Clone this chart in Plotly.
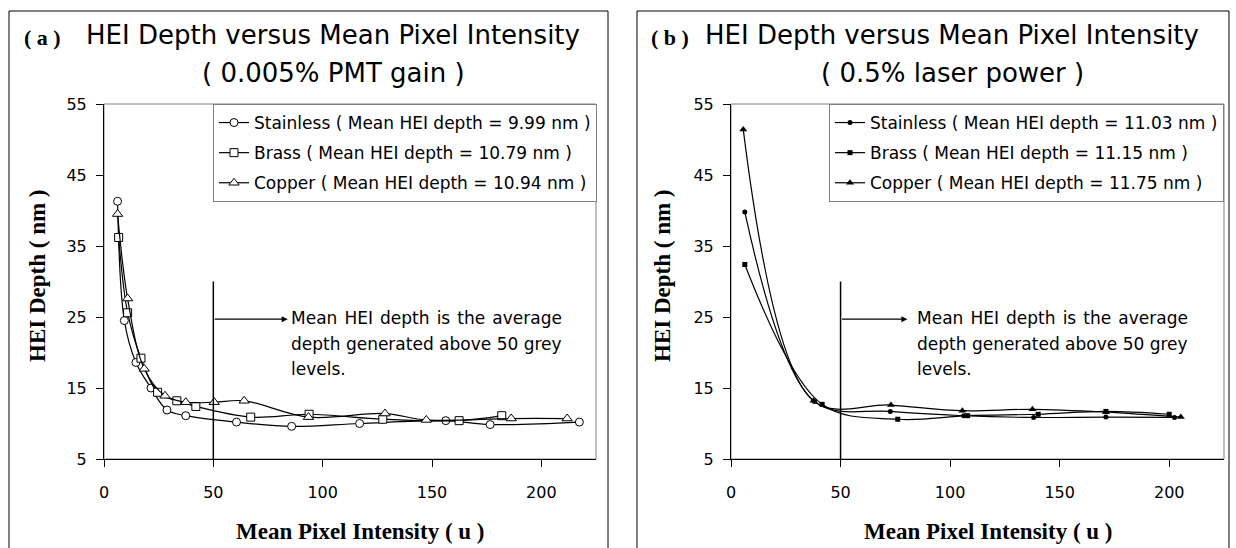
import plotly.graph_objects as go

W, H = 1236, 548

# ---------------- data ----------------
# Panel (a): 0.005% PMT gain
a_stainless_x = [6.2, 9.3, 14.6, 21.5, 28.8, 37.4, 60.6, 85.8, 116.9, 156.3, 176.6, 217.4]
a_stainless_y = [41.3, 24.5, 18.6, 15.0, 11.9, 11.1, 10.2, 9.6, 10.0, 10.4, 9.85, 10.2]
a_brass_x = [6.7, 10.8, 16.9, 24.5, 33.3, 42.0, 67.1, 93.8, 127.5, 162.4, 181.9]
a_brass_y = [36.2, 25.6, 19.2, 14.4, 13.2, 12.4, 10.9, 11.3, 10.6, 10.4, 11.1]
a_copper_x = [6.2, 10.8, 18.4, 27.9, 37.4, 50.4, 64.1, 93.5, 128.5, 147.4, 186.2, 211.8]
a_copper_y = [39.5, 27.6, 17.7, 13.9, 13.0, 13.0, 13.2, 10.9, 11.4, 10.5, 10.7, 10.7]

# Panel (b): 0.5% laser power
b_stainless_x = [6.3, 38.1, 72.7, 106.2, 138.1, 171.1, 202.4]
b_stainless_y = [39.8, 13.1, 11.7, 11.1, 10.85, 10.9, 10.85]
b_brass_x = [6.3, 41.6, 76.1, 108.0, 140.2, 171.1, 200.0]
b_brass_y = [32.4, 12.7, 10.6, 11.1, 11.3, 11.7, 11.3]
b_copper_x = [5.6, 37.6, 73.0, 105.6, 137.6, 171.1, 205.3]
b_copper_y = [51.4, 13.2, 12.6, 11.8, 12.0, 11.6, 10.9]

a_names = ["Stainless ( Mean HEI depth = 9.99 nm )",
           "Brass ( Mean HEI depth = 10.79 nm )",
           "Copper ( Mean HEI depth = 10.94 nm )"]
b_names = ["Stainless ( Mean HEI depth = 11.03 nm )",
           "Brass ( Mean HEI depth = 11.15 nm )",
           "Copper ( Mean HEI depth = 11.75 nm )"]

x_ticks = [0, 50, 100, 150, 200]
y_ticks = [5, 15, 25, 35, 45, 55]

note_lines = ["Mean HEI depth is the average",
              "depth generated above 50 grey",
              "levels."]

# ---------------- helpers ----------------
def px(x):
    return x / W

def py(y):
    return 1 - y / H

SANS = "DejaVu Sans, Arial, sans-serif"
SERIF = "Liberation Serif, Times New Roman, serif"

fig = go.Figure()

open_syms = ["circle", "square", "triangle-up"]
open_sizes = [8, 8, 9]
fill_sizes = [5, 5, 7]

a_series = [(a_stainless_x, a_stainless_y), (a_brass_x, a_brass_y), (a_copper_x, a_copper_y)]
b_series = [(b_stainless_x, b_stainless_y), (b_brass_x, b_brass_y), (b_copper_x, b_copper_y)]

for i, (xs, ys) in enumerate(a_series):
    fig.add_trace(go.Scatter(
        x=xs, y=ys, mode="lines+markers", name=a_names[i],
        line=dict(color="black", width=1.2, shape="spline", smoothing=1.0),
        marker=dict(symbol=open_syms[i], size=open_sizes[i], color="white",
                    line=dict(color="black", width=1)),
        xaxis="x", yaxis="y", legend="legend", legendgroup="a%d" % i))

for i, (xs, ys) in enumerate(b_series):
    fig.add_trace(go.Scatter(
        x=xs, y=ys, mode="lines+markers", name=b_names[i],
        line=dict(color="black", width=1.2, shape="spline", smoothing=1.0),
        marker=dict(symbol=open_syms[i], size=fill_sizes[i], color="black"),
        xaxis="x2", yaxis="y2", legend="legend2", legendgroup="b%d" % i))

axis_common = dict(
    range=[0, 225], tickvals=x_ticks, ticks="outside", ticklen=7, tickcolor="black",
    showline=True, linecolor="black", linewidth=1, showgrid=False, zeroline=False,
    automargin=False,
    tickfont=dict(family=SANS, size=16, color="black"), ticklabelstandoff=12, fixedrange=True)
yaxis_common = dict(
    range=[5, 55], tickvals=y_ticks, ticks="outside", ticklen=7, tickcolor="black",
    showline=True, linecolor="black", linewidth=1, showgrid=False, zeroline=False,
    automargin=False,
    tickfont=dict(family=SANS, size=16, color="black"), ticklabelstandoff=6, fixedrange=True)

ydom = [py(459), py(104)]
fig.update_layout(
    width=W, height=H, margin=dict(l=0, r=0, t=0, b=0, pad=0, autoexpand=False),
    paper_bgcolor="white", plot_bgcolor="white",
    xaxis=dict(domain=[px(104), px(596)], anchor="y", **axis_common),
    yaxis=dict(domain=ydom, anchor="x", **yaxis_common),
    xaxis2=dict(domain=[px(731), px(1224)], anchor="y2", **axis_common),
    yaxis2=dict(domain=ydom, anchor="x2", **yaxis_common),
    legend=dict(x=px(597), xanchor="right", y=py(104), yanchor="top",
                bordercolor="#808080", borderwidth=1, bgcolor="white",
                font=dict(family=SANS, size=17, color="black"), tracegroupgap=5),
    legend2=dict(x=px(1224), xanchor="right", y=py(104), yanchor="top",
                 bordercolor="#808080", borderwidth=1, bgcolor="white",
                 font=dict(family=SANS, size=17, color="black"), tracegroupgap=5),
    showlegend=True,
)

shapes = []
# panel frames
for x0, x1 in [(9, 608), (637, 1229)]:
    shapes.append(dict(type="rect", xref="paper", yref="paper",
                       x0=px(x0), x1=px(x1), y0=py(11), y1=py(560),
                       line=dict(color="black", width=1), fillcolor="rgba(0,0,0,0)", layer="below"))
# plot area frames (gray)
for xr, yr in [("x domain", "y domain"), ("x2 domain", "y2 domain")]:
    shapes.append(dict(type="rect", xref=xr, yref=yr, x0=0, x1=1, y0=0, y1=1,
                       line=dict(color="#808080", width=1), layer="below"))
# vertical 50-grey-level markers
for xr, yr in [("x", "y"), ("x2", "y2")]:
    shapes.append(dict(type="line", xref=xr, yref=yr, x0=50, x1=50, y0=5, y1=30,
                       line=dict(color="black", width=1.5)))
fig.update_layout(shapes=shapes)

ann = []
# arrows
ann.append(dict(xref="x", yref="y", axref="x", ayref="y", x=84, y=24.7, ax=50, ay=24.7,
                text="", showarrow=True, arrowhead=2, arrowsize=1, arrowwidth=1.2, arrowcolor="black"))
ann.append(dict(xref="x2", yref="y2", axref="x2", ayref="y2", x=80.5, y=24.7, ax=50, ay=24.7,
                text="", showarrow=True, arrowhead=2, arrowsize=1, arrowwidth=1.2, arrowcolor="black"))
# note text (first line slightly widened to mimic the justified block)
note_display = [note_lines[0].replace(" ", " \u200a"), note_lines[1], note_lines[2]]
for left in (289, 915):
    for line, yc in zip(note_display, [318, 344, 369]):
        ann.append(dict(xref="paper", yref="paper", x=px(left), y=py(yc), xanchor="left",
                        yanchor="middle", text=line, showarrow=False,
                        font=dict(family=SANS, size=17, color="black")))

# titles
panel_info = [("( a )", 22, 333, "( 0.005% PMT gain )", 37, 360),
              ("( b )", 649, 952, "( 0.5% laser power )", 662, 988)]
for tag, tagx, cx, sub, ytx, xtx in panel_info:
    ann.append(dict(xref="paper", yref="paper", x=px(tagx), y=py(37), xanchor="left", yanchor="middle",
                    text="<b>%s</b>" % tag, showarrow=False,
                    font=dict(family=SERIF, size=22, color="black")))
    ann.append(dict(xref="paper", yref="paper", x=px(cx), y=py(35), xanchor="center", yanchor="middle",
                    text="HEI Depth versus Mean Pixel Intensity", showarrow=False,
                    font=dict(family=SANS, size=26, color="black")))
    ann.append(dict(xref="paper", yref="paper", x=px(cx), y=py(73), xanchor="center", yanchor="middle",
                    text=sub, showarrow=False,
                    font=dict(family=SANS, size=26, color="black")))
    ann.append(dict(xref="paper", yref="paper", x=px(ytx), y=py(276), xanchor="center", yanchor="middle",
                    text="<b>HEI Depth ( nm )</b>", textangle=-90, showarrow=False,
                    font=dict(family=SERIF, size=23, color="black")))
    ann.append(dict(xref="paper", yref="paper", x=px(xtx), y=py(531), xanchor="center", yanchor="middle",
                    text="<b>Mean Pixel Intensity ( u )</b>", showarrow=False,
                    font=dict(family=SERIF, size=23, color="black")))

fig.update_layout(annotations=ann)

fig.write_html("out.html", config={"displayModeBar": False},
               post_script="document.body.style.margin='0';document.body.style.overflow='hidden';")
